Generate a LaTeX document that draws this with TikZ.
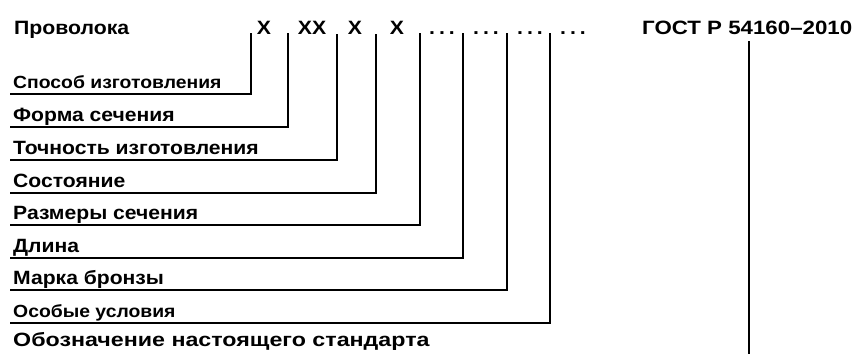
\documentclass[tikz,border=0pt]{standalone}
\usepackage{fontspec}
\newfontfamily\lab{Liberation Sans}[FakeStretch=1.1]
\newfontfamily\labwide{Liberation Sans}[FakeStretch=1.21]
\newfontfamily\labgost{Liberation Sans}[FakeStretch=1.155]
\begin{document}
\begin{tikzpicture}[x=1pt,y=-1pt,
  txt/.style={inner sep=0pt,anchor=base west,font=\lab\bfseries\fontsize{19.2}{21}\selectfont},
  smalltxt/.style={txt,font=\lab\bfseries\fontsize{17.6}{20}\selectfont},
  head/.style={inner sep=0pt,anchor=base west,font=\lab\bfseries\fontsize{19.3}{21}\selectfont},
  code/.style={inner sep=0pt,anchor=base,font=\lab\bfseries\fontsize{19.3}{21}\selectfont},
  conn/.style={line width=2.8pt,line join=miter}]
\useasboundingbox (0,0) rectangle (855,354);
\newcommand\dts{.\kern4pt.\kern4pt.}
% header
\node[head] (wire) at (14,34) {Проволока};
\node[code] (c1) at (264,34) {X};
\node[code] (c2) at (312,34) {XX};
\node[code] (c3) at (355,34) {X};
\node[code] (c4) at (397,34) {X};
\node[code] (c5) at (442,34) {\dts};
\node[code] (c6) at (486,34) {\dts};
\node[code] (c7) at (530,34) {\dts};
\node[code] (c8) at (573,34) {\dts};
\node[head,font=\labgost\bfseries\fontsize{19.3}{21}\selectfont] (gost) at (642,34) {ГОСТ Р 54160–2010};
% labels
\node[smalltxt] (l1) at (13,88) {Способ изготовления};
\node[txt] (l2) at (13,121) {Форма сечения};
\node[txt] (l3) at (13,154) {Точность изготовления};
\node[txt] (l4) at (13,187) {Состояние};
\node[txt] (l5) at (13,219) {Размеры сечения};
\node[txt] (l6) at (13,252) {Длина};
\node[txt] (l7) at (13,284) {Марка бронзы};
\node[smalltxt] (l8) at (13,317) {Особые условия};
\node[txt,font=\labwide\bfseries\fontsize{19.2}{21}\selectfont] (l9) at (13,346) {Обозначение настоящего стандарта};
% connector coordinates
\coordinate (u1) at (10,94);  \coordinate (t1) at (251,33);
\coordinate (u2) at (10,127); \coordinate (t2) at (288,33);
\coordinate (u3) at (10,160); \coordinate (t3) at (337,34);
\coordinate (u4) at (10,193); \coordinate (t4) at (376,34);
\coordinate (u5) at (10,225); \coordinate (t5) at (420,33);
\coordinate (u6) at (10,258); \coordinate (t6) at (463,33);
\coordinate (u7) at (10,290); \coordinate (t7) at (507,33);
\coordinate (u8) at (10,323); \coordinate (t8) at (550,33);
\coordinate (g1) at (749,41); \coordinate (g2) at (749,354);
\foreach \i in {1,...,8} {\draw[conn] (u\i) -| (t\i);}
\draw[conn] (g1) -- (g2);
\end{tikzpicture}
\end{document}
